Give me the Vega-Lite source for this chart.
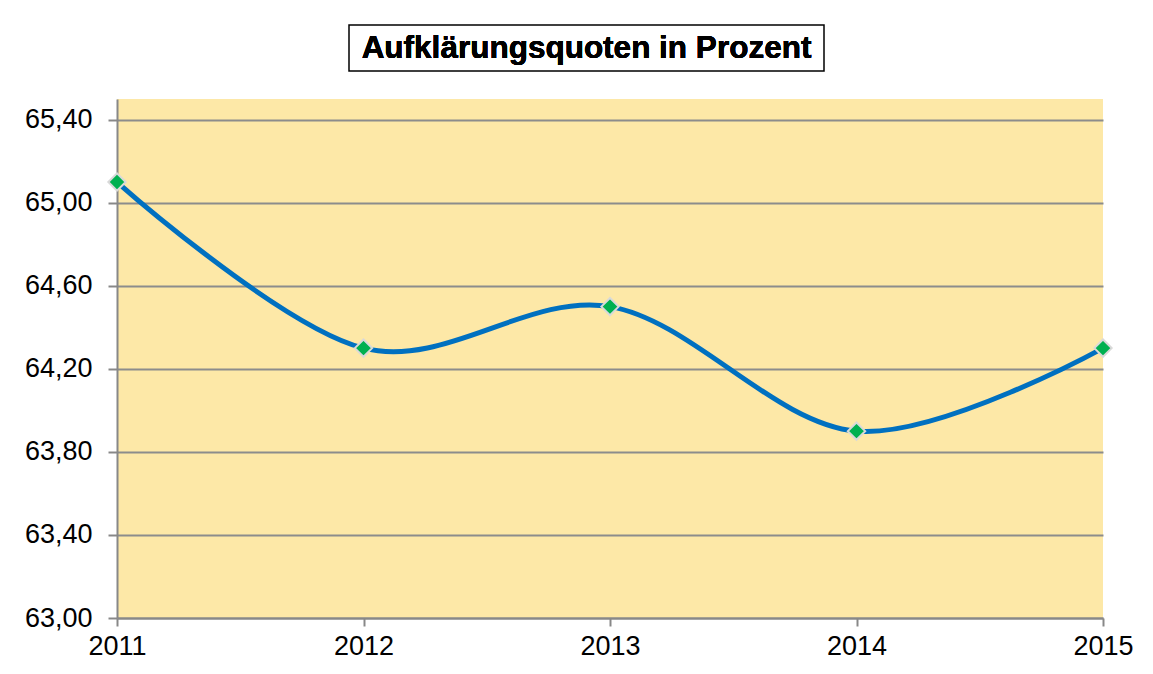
{
  "$schema": "https://vega.github.io/schema/vega-lite/v6.json",
  "padding": {"left": 24, "top": 24, "right": 0, "bottom": 0},
  "background": "white",
  "config": {
    "font": "Liberation Sans"
  },
  "data": {"values": [
    {"Jahr": 2011, "Quote": 65.1},
    {"Jahr": 2012, "Quote": 64.3},
    {"Jahr": 2013, "Quote": 64.5},
    {"Jahr": 2014, "Quote": 63.9},
    {"Jahr": 2015, "Quote": 64.3}
  ]},
  "spacing": 27,
  "vconcat": [
    {
      "spacing": 0,
      "hconcat": [
        {
          "width": 231,
          "height": 46,
          "view": {"stroke": null, "fill": "white"},
          "mark": {"type": "text", "text": ""},
          "encoding": {}
        },
        {
          "width": 475,
          "height": 46,
          "view": {"stroke": "black", "strokeWidth": 1.5, "fill": "white"},
          "mark": {"type": "text", "text": "Aufklärungsquoten in Prozent", "font": "Liberation Sans", "fontWeight": "bold", "fontSize": 31.5, "color": "black", "align": "center", "baseline": "middle", "dy": 1},
          "encoding": {}
        }
      ]
    },
    {
      "width": 986,
      "height": 519,
      "view": {"stroke": null, "fill": "#FDE8A7"},
      "encoding": {
        "x": {
          "field": "Jahr", "type": "quantitative",
          "scale": {"domain": [2011, 2015], "nice": false, "zero": false},
          "axis": {
            "title": null, "values": [2011, 2012, 2013, 2014, 2015], "format": "d",
            "grid": false, "labelFlush": false, "labelFontSize": 27, "labelColor": "black",
            "labelFont": "Liberation Sans", "labelPadding": 7,
            "tickSize": 8, "tickColor": "#888888", "tickWidth": 2,
            "domainColor": "#888888", "domainWidth": 2
          }
        },
        "y": {
          "field": "Quote", "type": "quantitative",
          "scale": {"domain": [63, 65.5], "nice": false, "zero": false},
          "axis": {
            "title": null, "values": [63, 63.4, 63.8, 64.2, 64.6, 65.0, 65.4],
            "labelExpr": "replace(format(datum.value, '.2f'), '.', ',')",
            "grid": true, "gridColor": "#8C8C8C", "gridWidth": 2,
            "labelFontSize": 27, "labelColor": "black", "labelFont": "Liberation Sans",
            "labelPadding": 16, "tickSize": 9, "tickColor": "#888888", "tickWidth": 2,
            "domainColor": "#888888", "domainWidth": 2
          }
        }
      },
      "layer": [
        {"mark": {"type": "line", "interpolate": "cardinal", "color": "#0070C0", "strokeWidth": 5}},
        {"mark": {"type": "point", "shape": "diamond", "filled": true, "size": 300, "fill": "#00B050", "stroke": "#D9D9D9", "strokeWidth": 2, "opacity": 1}}
      ]
    }
  ]
}
